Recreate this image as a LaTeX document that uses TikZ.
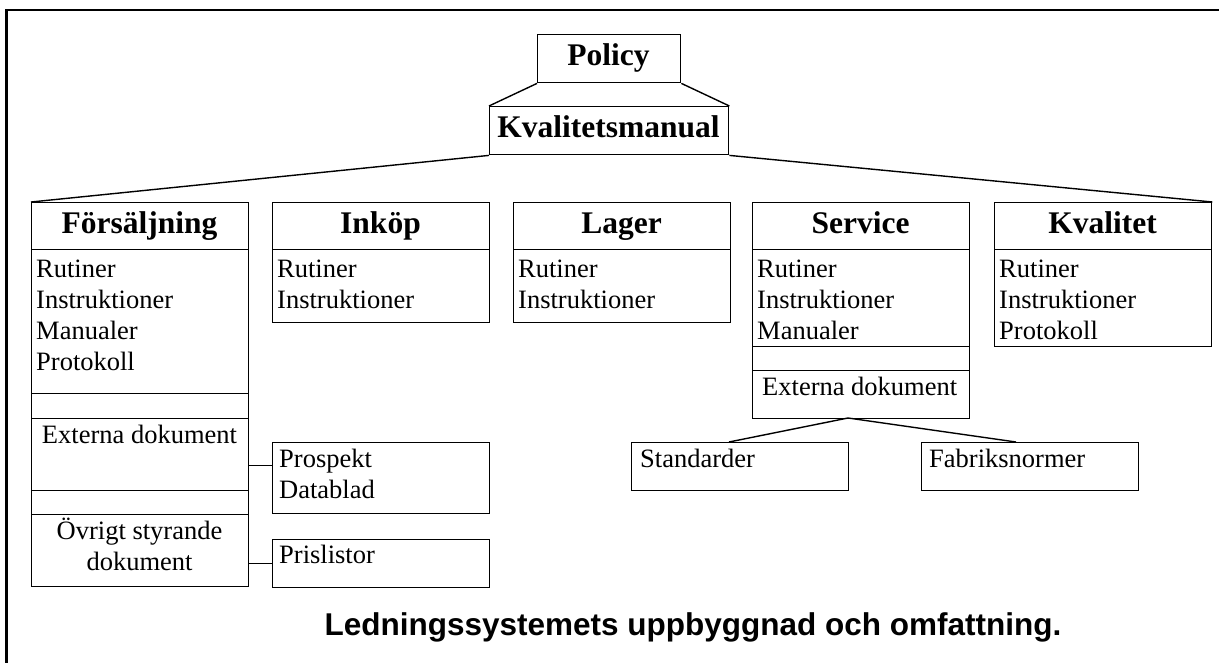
\documentclass[tikz,border=0pt]{standalone}
\usepackage{fontspec}
\setmainfont{Liberation Serif}
\newfontfamily\titlefont{Liberation Sans}
\newcommand{\hdfnt}{\bfseries\fontsize{31.5}{36}\selectfont}
\newcommand{\txfnt}{\fontsize{26.5}{31}\selectfont}
\begin{document}
\begin{tikzpicture}[x=1pt,y=-1pt,
  box/.style={draw, line width=1.4pt, inner sep=0pt, anchor=north west, minimum width=217pt},
  hd/.style={font=\hdfnt, anchor=base, inner sep=0pt},
  tx/.style={font=\txfnt, anchor=base west, inner sep=0pt},
  txc/.style={font=\txfnt, anchor=base, inner sep=0pt},
  link/.style={line width=1.4pt}]
\useasboundingbox (0,0) rectangle (1219,662);
\begin{scope}
\clip (0,0) rectangle (1219,662);
\draw[line width=2.4pt] (6.5,10) rectangle (1240,700);
\end{scope}
% top
\node[box, minimum width=143pt, minimum height=48pt] (pol) at (537,34) {};
\node[hd] (polt) at (608.5,65) {Policy};
\node[box, minimum width=239pt, minimum height=48pt] (kva) at (489,106) {};
\node[hd] (kvat) at (608.5,137) {Kvalitetsmanual};
\draw[link] (pol.south west) -- (kva.north west);
\draw[link] (pol.south east) -- (kva.north east);
% column headers
\node[box, minimum height=47pt] (fH) at (31,202) {};
\node[box, minimum height=47pt] (iH) at (272,202) {};
\node[box, minimum height=47pt] (lH) at (513,202) {};
\node[box, minimum height=47pt] (sH) at (752,202) {};
\node[box, minimum height=47pt] (kH) at (994,202) {};
\node[hd] (fHt) at (139.5,233) {Försäljning};
\node[hd] (iHt) at (380.5,233) {Inköp};
\node[hd] (lHt) at (621.5,233) {Lager};
\node[hd] (sHt) at (860.5,233) {Service};
\node[hd] (kHt) at (1102.5,233) {Kvalitet};
\draw[link] (kva.south west) -- (fH.north west);
\draw[link] (kva.south east) -- (kH.north east);
% bodies
\node[box, minimum height=144pt] (fB) at (31,249) {};
\node[box, minimum height=73pt] (iB) at (272,249) {};
\node[box, minimum height=73pt] (lB) at (513,249) {};
\node[box, minimum height=97pt] (sB) at (752,249) {};
\node[box, minimum height=97pt] (kB) at (994,249) {};
\foreach \t [count=\i] in {Rutiner,Instruktioner,Manualer,Protokoll}
  \node[tx] (fT\i) at (36,{277+31*(\i-1)}) {\t};
\foreach \t [count=\i] in {Rutiner,Instruktioner}
  \node[tx] (iT\i) at (277,{277+31*(\i-1)}) {\t};
\foreach \t [count=\i] in {Rutiner,Instruktioner}
  \node[tx] (lT\i) at (518,{277+31*(\i-1)}) {\t};
\foreach \t [count=\i] in {Rutiner,Instruktioner,Manualer}
  \node[tx] (sT\i) at (757,{277+31*(\i-1)}) {\t};
\foreach \t [count=\i] in {Rutiner,Instruktioner,Protokoll}
  \node[tx] (kT\i) at (999,{277+31*(\i-1)}) {\t};
% Försäljning lower part
\node[box, minimum height=25pt] (fG1) at (31,393) {};
\node[box, minimum height=72pt] (fE) at (31,418) {};
\node[txc] (fEt) at (139.5,443) {Externa dokument};
\node[box, minimum height=24pt] (fG2) at (31,490) {};
\node[box, minimum height=72pt] (fO) at (31,514) {};
\node[txc] (fOt1) at (139.5,539) {Övrigt styrande};
\node[txc] (fOt2) at (139.5,570) {dokument};
\node[box, minimum height=71pt] (pro) at (272,442) {};
\node[tx] (prot1) at (279,467) {Prospekt};
\node[tx] (prot2) at (279,498) {Datablad};
\node[box, minimum height=48pt] (pri) at (272,539) {};
\node[tx] (prit) at (279,563) {Prislistor};
\path (pro.north west) ++(0,23.5) coordinate (proin);
\draw[link] (fE.east |- proin) -- (proin);
\draw[link] (fO.east |- pri.west) -- (pri.west);
% Service lower part
\node[box, minimum height=24pt] (sG) at (752,346) {};
\node[box, minimum height=48pt] (sE) at (752,370) {};
\node[tx] (sEt) at (762,395) {Externa dokument};
\node[box, minimum height=48pt] (std) at (631,442) {};
\node[tx] (stdt) at (640,467) {Standarder};
\node[box, minimum height=48pt] (fab) at (921,442) {};
\node[tx] (fabt) at (929,467) {Fabriksnormer};
\coordinate (apex) at (848,418);
\coordinate (stdtop) at (729,442);
\coordinate (fabtop) at (1016,442);
\draw[link] (apex) -- (stdtop);
\draw[link] (apex) -- (fabtop);
% title
\node[font=\titlefont\bfseries\fontsize{31.5}{36}\selectfont, anchor=base, inner sep=0pt] (title) at (693,635) {Ledningssystemets uppbyggnad och omfattning.};
\end{tikzpicture}
\end{document}
